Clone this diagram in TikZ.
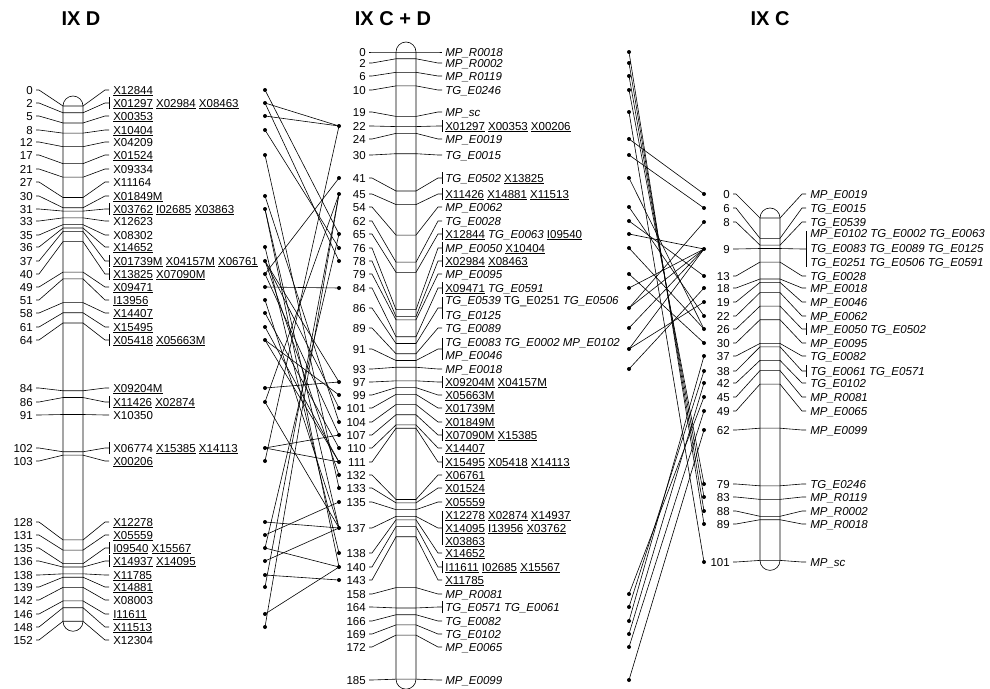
\documentclass[tikz,border=0pt]{standalone}
\usepackage{fontspec}
\setmainfont{Liberation Sans}
\newcommand{\mk}[1]{\underline{#1}}
\newcommand{\mpm}[1]{\textit{MP\_#1}}
\newcommand{\tgm}[1]{\textit{TG\_#1}}
\begin{document}
\begin{tikzpicture}[x=1pt, y=-1pt, line width=0.6pt,
    every node/.style={font=\fontsize{11.5}{13}\selectfont, inner sep=0pt},
    num/.style={anchor=base east, yshift=-4pt},
    lab/.style={anchor=base west, yshift=-4pt},
    ttl/.style={font=\fontsize{20}{22}\selectfont\bfseries},
    chrom/.style={rounded corners=10pt}
  ]
  \useasboundingbox (0,0) rectangle (990,688);

  % titles
  \node[ttl] (tixd) at (81,19) {IX D};
  \node[ttl] (tixcd) at (393,19) {IX C + D};
  \node[ttl] (tixc) at (770,19) {IX C};

  % IX D
  \draw[chrom] (63,96) rectangle (83,{106+3.39*152+10});
  \foreach \cm/\y/\br/\txt in {
      0/90/0/{\mk{X12844}},
      2/103/6/{\mk{X01297} \mk{X02984} \mk{X08463}},
      5/116/0/{\mk{X00353}},
      8/130/0/{\mk{X10404}},
      12/142/0/{X04209},
      17/155/0/{\mk{X01524}},
      21/169/0/{X09334},
      27/182/0/{X11164},
      30/196/0/{\mk{X01849M}},
      31/209/6/{\mk{X03762} \mk{I02685} \mk{X03863}},
      33/221/0/{X12623},
      35/235/0/{X08302},
      36/247/0/{\mk{X14652}},
      37/261/6/{\mk{X01739M} \mk{X04157M} \mk{X06761}},
      40/274/6/{\mk{X13825} \mk{X07090M}},
      49/287/0/{\mk{X09471}},
      51/300/0/{\mk{I13956}},
      58/313/0/{\mk{X14407}},
      61/327/0/{\mk{X15495}},
      64/340/6/{\mk{X05418} \mk{X05663M}},
      84/388/0/{\mk{X09204M}},
      86/402/6/{\mk{X11426} \mk{X02874}},
      91/415/0/{X10350},
      102/448/6/{X06774 \mk{X15385} \mk{X14113}},
      103/461/0/{\mk{X00206}},
      128/522/0/{\mk{X12278}},
      131/535/0/{\mk{X05559}},
      135/548/6/{\mk{I09540} \mk{X15567}},
      136/561/6/{\mk{X14937} \mk{X14095}},
      138/575/0/{\mk{X11785}},
      139/587/0/{\mk{X14881}},
      142/600/0/{X08003},
      146/614/0/{\mk{I11611}},
      148/627/0/{\mk{X11513}},
      152/640/0/{X12304}}{
    \draw (36,\y) -- (39,\y) -- (63,{106+3.39*\cm}) -- (83,{106+3.39*\cm}) -- (105,\y) -- (109,\y);
    \ifnum\br>0 \draw (109,\y-\br) -- (109,\y+\br); \fi
    \node[num] (ixdn\cm) at (33,\y) {\cm};
    \node[lab] (ixdl\cm) at (113,\y) {\txt};
    \coordinate (ixd\cm) at (265,\y);
  }

  % IX C + D
  \draw[chrom] (396,42) rectangle (416,{52+3.39*185+10});
  \foreach \cm/\y/\br/\txt in {
      0/52/0/{\mpm{R0018}},
      2/63/0/{\mpm{R0002}},
      6/76/0/{\mpm{R0119}},
      10/90/0/{\tgm{E0246}},
      19/112/0/{\mpm{sc}},
      22/126/6/{\mk{X01297} \mk{X00353} \mk{X00206}},
      24/139/0/{\mpm{E0019}},
      30/155/0/{\tgm{E0015}},
      41/178/6/{\tgm{E0502} \mk{X13825}},
      45/194/6/{\mk{X11426} \mk{X14881} \mk{X11513}},
      54/207/0/{\mpm{E0062}},
      62/221/0/{\tgm{E0028}},
      65/234/6/{\mk{X12844} \tgm{E0063} \mk{I09540}},
      76/248/6/{\mpm{E0050} \mk{X10404}},
      78/261/6/{\mk{X02984} \mk{X08463}},
      79/274/0/{\mpm{E0095}},
      84/288/6/{\mk{X09471} \tgm{E0591}},
      86/308/11/{},
      89/328/0/{\tgm{E0089}},
      91/349/11/{},
      93/369/0/{\mpm{E0018}},
      97/382/6/{\mk{X09204M} \mk{X04157M}},
      99/395/0/{\mk{X05663M}},
      101/408/0/{\mk{X01739M}},
      104/422/0/{\mk{X01849M}},
      107/435/6/{\mk{X07090M} \mk{X15385}},
      110/448/0/{\mk{X14407}},
      111/462/6/{\mk{X15495} \mk{X05418} \mk{X14113}},
      132/475/0/{\mk{X06761}},
      133/488/0/{\mk{X01524}},
      135/502/0/{\mk{X05559}},
      137/528/17/{},
      138/553/0/{\mk{X14652}},
      140/567/6/{\mk{I11611} \mk{I02685} \mk{X15567}},
      143/580/0/{\mk{X11785}},
      158/594/0/{\mpm{R0081}},
      164/607/6/{\tgm{E0571} \tgm{E0061}},
      166/621/0/{\tgm{E0082}},
      169/634/0/{\tgm{E0102}},
      172/647/0/{\mpm{E0065}},
      185/680/0/{\mpm{E0099}}}{
    \draw (369,\y) -- (372,\y) -- (396,{52+3.39*\cm}) -- (416,{52+3.39*\cm}) -- (438,\y) -- (442,\y);
    \ifnum\br>0 \draw (442,\y-\br) -- (442,\y+\br); \fi
    \node[num] (cdn\cm) at (366,\y) {\cm};
    \node[lab] (cdt\cm) at (445,\y) {\txt};
    \coordinate (cdl\cm) at (339,\y);
    \coordinate (cdr\cm) at (629,\y);
  }
  \node[lab] (cdt86a) at (445,300) {\tgm{E0539} TG\_E0251 \tgm{E0506}};
  \node[lab] (cdt86b) at (445,315) {\tgm{E0125}};
  \node[lab] (cdt91a) at (445,342) {\tgm{E0083} \tgm{E0002} \mpm{E0102}};
  \node[lab] (cdt91b) at (445,355) {\mpm{E0046}};
  \node[lab] (cdt137a) at (445,515) {\mk{X12278} \mk{X02874} \mk{X14937}};
  \node[lab] (cdt137b) at (445,528) {\mk{X14095} \mk{I13956} \mk{X03762}};
  \node[lab] (cdt137c) at (445,541) {\mk{X03863}};

  % IX C
  \draw[chrom] (760,208) rectangle (780,{218+3.39*101+10});
  \foreach \cm/\y/\br/\txt in {
      0/194/0/{\mpm{E0019}},
      6/208/0/{\tgm{E0015}},
      8/222/0/{\tgm{E0539}},
      9/249/18/{},
      13/276/0/{\tgm{E0028}},
      18/288/0/{\mpm{E0018}},
      19/302/0/{\mpm{E0046}},
      22/316/0/{\mpm{E0062}},
      26/329/6/{\mpm{E0050} \tgm{E0502}},
      30/343/0/{\mpm{E0095}},
      37/356/0/{\tgm{E0082}},
      38/371/6/{\tgm{E0061} \tgm{E0571}},
      42/383/0/{\tgm{E0102}},
      45/397/0/{\mpm{R0081}},
      49/411/0/{\mpm{E0065}},
      62/430/0/{\mpm{E0099}},
      79/484/0/{\tgm{E0246}},
      83/497/0/{\mpm{R0119}},
      88/511/0/{\mpm{R0002}},
      89/524/0/{\mpm{R0018}},
      101/562/0/{\mpm{sc}}}{
    \draw (733,\y) -- (736,\y) -- (760,{218+3.39*\cm}) -- (780,{218+3.39*\cm}) -- (802,\y) -- (806,\y);
    \ifnum\br>0 \draw (806,\y-\br) -- (806,\y+\br); \fi
    \node[num] (ixcn\cm) at (730,\y) {\cm};
    \node[lab] (ixct\cm) at (810,\y) {\txt};
    \coordinate (ixc\cm) at (704,\y);
  }
  \node[lab] (ixct9a) at (810,233) {\mpm{E0102} \tgm{E0002} \tgm{E0063}};
  \node[lab] (ixct9b) at (810,248) {\tgm{E0083} \tgm{E0089} \tgm{E0125}};
  \node[lab] (ixct9c) at (810,262) {\tgm{E0251} \tgm{E0506} \tgm{E0591}};

  % IX D -> IX C + D
  \foreach \a/\b in {0/65, 2/22, 2/78, 5/22, 8/76, 17/133, 30/104, 31/137, 31/140,
      36/138, 37/101, 37/97, 37/132, 40/41, 40/107, 49/84, 51/137, 58/110, 61/111,
      64/111, 64/99, 84/97, 86/45, 86/137, 102/107, 102/111, 103/22, 128/137,
      131/135, 135/65, 135/140, 136/137, 138/143, 139/45, 146/140, 148/45}
    \draw (ixd\a) -- (cdl\b);
  \foreach \n in {0,2,5,8,17,30,31,36,37,40,49,51,58,61,64,84,86,102,103,128,131,135,136,138,139,146,148}
    \fill (ixd\n) circle[radius=2];
  \foreach \n in {22,41,45,65,76,78,84,97,99,101,104,107,110,111,132,133,135,137,138,140,143}
    \fill (cdl\n) circle[radius=2];

  % IX C + D -> IX C
  \foreach \a/\b in {0/89, 2/88, 6/83, 10/79, 19/101, 24/0, 30/6, 41/26, 54/22, 62/13,
      65/9, 76/26, 79/30, 84/9, 86/8, 86/9, 89/9, 91/9, 91/19, 93/18, 158/45,
      164/38, 166/37, 169/42, 172/49, 185/62}
    \draw (cdr\a) -- (ixc\b);
  \foreach \n in {0,2,6,10,19,24,30,41,54,62,65,76,79,84,86,89,91,93,158,164,166,169,172,185}
    \fill (cdr\n) circle[radius=2];
  \foreach \n in {0,6,8,9,13,18,19,22,26,30,37,38,42,45,49,62,79,83,88,89,101}
    \fill (ixc\n) circle[radius=2];
\end{tikzpicture}
\end{document}
